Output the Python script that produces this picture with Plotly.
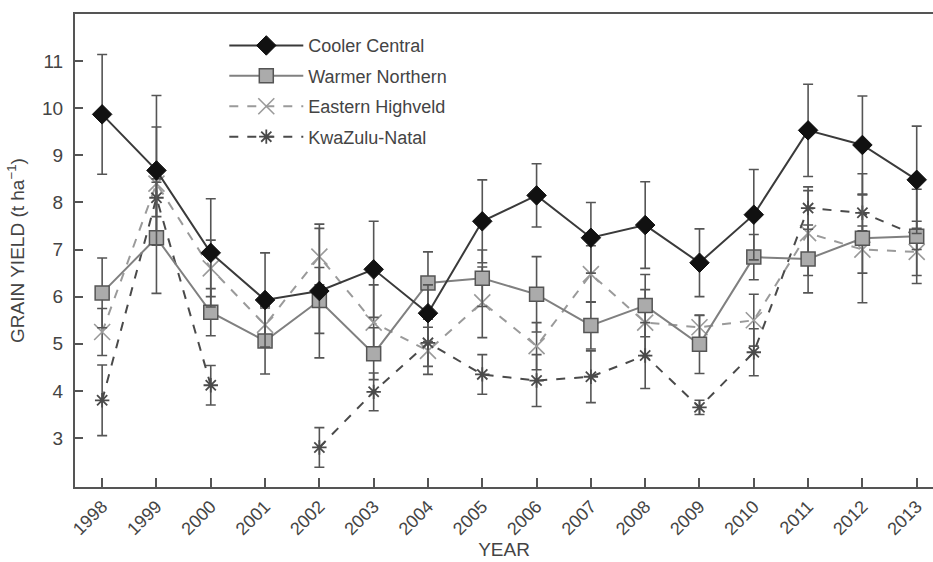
import plotly.graph_objects as go

years = list(range(1998, 2014))
tick_labels = [str(y) for y in years]

cooler_central = [9.87, 8.68, 6.93, 5.93, 6.12, 6.58, 5.65, 7.60, 8.15, 7.25, 7.52, 6.72, 7.74, 9.53, 9.22, 8.48]
cooler_central_err = [1.27, 1.59, 1.15, 1.00, 1.42, 1.02, 0.60, 0.88, 0.67, 0.75, 0.92, 0.72, 0.96, 0.98, 1.04, 1.14]

warmer_northern = [6.08, 7.25, 5.67, 5.06, 5.92, 4.79, 6.29, 6.39, 6.05, 5.39, 5.81, 4.99, 6.84, 6.80, 7.24, 7.28]
warmer_northern_err = [0.74, 1.18, 0.50, 0.70, 0.70, 0.55, 0.66, 0.60, 0.80, 0.50, 0.66, 0.62, 0.48, 0.72, 1.37, 1.00]

eastern_highveld = [5.25, 8.40, 6.60, 5.40, 6.85, 5.45, 4.85, 5.88, 4.95, 6.48, 5.45, 5.35, 5.50, 7.35, 7.00, 6.95]
eastern_highveld_err = [0.50, 1.20, 0.60, 0.40, 0.60, 0.80, 0.50, 0.75, 0.50, 0.60, 0.70, 0.25, 0.55, 0.90, 0.50, 0.50]

kwazulu_natal = [3.80, 8.10, 4.12, None, 2.80, 3.98, 5.02, 4.35, 4.22, 4.30, 4.75, 3.65, 4.82, 7.88, 7.78, 7.30]
kwazulu_natal_err = [0.75, 0.40, 0.42, 0.0, 0.42, 0.40, 0.50, 0.42, 0.55, 0.55, 0.70, 0.15, 0.50, 0.45, 0.38, 0.30]

FONT = "Liberation Sans, Arial, sans-serif"
TXT = "#444444"
ERRC = "#555555"

fig = go.Figure()

def err(vals):
    return dict(type="data", array=vals, visible=True, color=ERRC, thickness=1.6, width=5)

fig.add_trace(go.Scatter(
    x=years, y=eastern_highveld, name="Eastern Highveld", mode="lines+markers",
    line=dict(color="#9a9a9a", width=2, dash="dash"),
    marker=dict(symbol="x-thin-open", size=16, line=dict(color="#9a9a9a", width=1.6)),
    error_y=err(eastern_highveld_err), legendrank=3, legendgroup="c"))

fig.add_trace(go.Scatter(
    x=years, y=kwazulu_natal, name="KwaZulu-Natal", mode="lines+markers",
    line=dict(color="#4a4a4a", width=2, dash="dash"),
    marker=dict(symbol="asterisk-open", size=12, line=dict(color="#2a2a2a", width=1.8)),
    error_y=err(kwazulu_natal_err), legendrank=4, legendgroup="d"))

fig.add_trace(go.Scatter(
    x=years, y=warmer_northern, name="Warmer Northern", mode="lines+markers",
    line=dict(color="#808080", width=2),
    marker=dict(symbol="square", size=14, color="#ababab", line=dict(color="#555555", width=1.5)),
    error_y=err(warmer_northern_err), legendrank=2, legendgroup="b"))

fig.add_trace(go.Scatter(
    x=years, y=cooler_central, name="Cooler Central", mode="lines+markers",
    line=dict(color="#3a3a3a", width=2),
    marker=dict(symbol="diamond", size=15, color="#111111", line=dict(color="#111111", width=1)),
    error_y=err(cooler_central_err), legendrank=1, legendgroup="a"))

fig.update_layout(
    width=933, height=562,
    margin=dict(l=75, r=0, t=14, b=75),
    paper_bgcolor="white", plot_bgcolor="white",
    font=dict(family=FONT, color=TXT, size=17),
    showlegend=True,
    legend=dict(x=0.174, y=0.972, xanchor="left", yanchor="top",
                bgcolor="rgba(0,0,0,0)", font=dict(size=18, color=TXT),
                traceorder="grouped", tracegroupgap=4, itemwidth=74),
    xaxis=dict(range=[1997.5, 2013.3], tickmode="array", tickvals=years, ticktext=tick_labels,
               tickangle=-45, ticks="inside", ticklen=9, tickcolor="#555555", tickwidth=1.5,
               showline=True, linecolor="#555555", linewidth=2, mirror=True,
               showgrid=False, zeroline=False, automargin=False,
               tickfont=dict(size=18, color=TXT),
               title=dict(text="YEAR", font=dict(size=19, color=TXT), standoff=0)),
    yaxis=dict(range=[1.96, 12.0], tickmode="array", tickvals=[3, 4, 5, 6, 7, 8, 9, 10, 11],
               ticks="inside", ticklen=8, tickcolor="#555555", tickwidth=1.5,
               showline=True, linecolor="#555555", linewidth=2,
               showgrid=False, zeroline=False, automargin=False,
               ticklabelstandoff=6,
               tickfont=dict(size=19, color=TXT),
               title=dict(text="GRAIN YIELD (t ha<sup>−1</sup>)", font=dict(size=19, color=TXT), standoff=12)),
)

fig.write_html("out.html",
               config={"displayModeBar": False},
               post_script="document.body.style.margin='0';document.body.style.overflow='hidden';")
